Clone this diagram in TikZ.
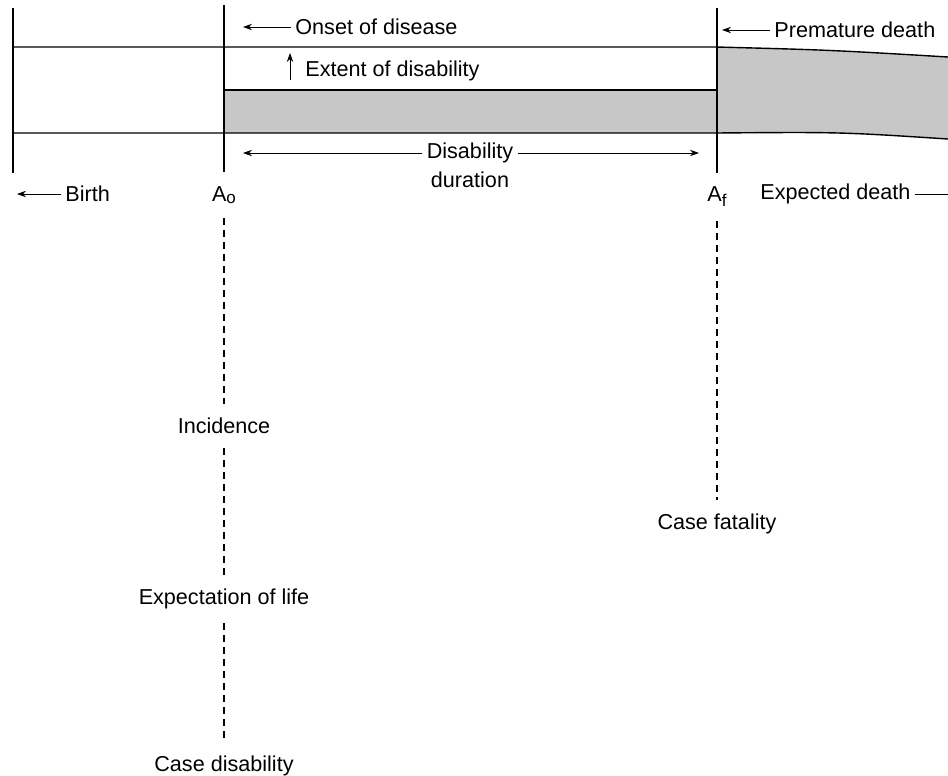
\documentclass[tikz,border=0pt]{standalone}
\usepackage{fontspec}
\setmainfont{Liberation Sans}
\usetikzlibrary{arrows.meta}
\begin{document}
\begin{tikzpicture}[>={Stealth[length=4.5pt,width=3.2pt]},x=0.5pt,y=-0.5pt,
    txt/.style={font=\fontsize{10.8}{12}\selectfont,inner sep=2pt},
    cut/.style={txt,inner ysep=7pt},
    arr/.style={->,line width=0.45pt},
    life/.style={line width=0.7pt},
    dashline/.style={line width=0.6pt,dash pattern=on 3.5pt off 2.5pt}]
  \useasboundingbox (0,0) rectangle (948,776);
  % bands
  \fill[black!22] (224,90) rectangle (716,133);
  \fill[black!22] (716,47) .. controls (830,50) .. (948,57) -- (948,139) .. controls (840,132) .. (716,133) -- cycle;
  \draw[life] (13,47) -- (716,47) .. controls (830,50) .. (948,57);
  \draw[life] (13,133) -- (716,133) .. controls (840,132) .. (948,139);
  \draw[life] (224,90) -- (716,90);
  \draw[life] (13,8) -- (13,173);
  % ages
  \node[cut] (Ao) at (224,195) {A\raisebox{-1pt}{\fontsize{8.5}{9}\selectfont o}};
  \node[cut] (Af) at (717,197) {A\raisebox{-2.5pt}{\fontsize{8.5}{9}\selectfont f}};
  \coordinate (AoTop) at (224,5);
  \coordinate (AfTop) at (717,8);
  \draw[life] (AoTop) -- (Ao);
  \draw[life] (AfTop) -- (Af);
  % measures along the dashed lines
  \node[cut] (incid) at (224,426) {Incidence};
  \node[cut] (expect) at (224,599) {Expectation of life};
  \node[cut] (casedis) at (224,766) {Case disability};
  \node[cut] (fatal) at (717,524) {Case fatality};
  \draw[dashline] (Ao) -- (incid) (incid) -- (expect) (expect) -- (casedis);
  \draw[dashline] (Af) -- (fatal);
  % labels with arrows
  \node[txt,anchor=west] (onset) at (291,27) {Onset of disease};
  \coordinate (onsetTip) at (243,27);
  \draw[arr] (onset) -- (onsetTip);
  \node[txt,anchor=west] (extent) at (301,71) {Extent of disability};
  \coordinate (extTail) at (290,80);
  \coordinate (extTip) at (290,53);
  \draw[arr] (extTail) -- (extTip);
  \node[txt] (dis) at (470,153) {Disability};
  \node[txt] (dur) at (470,180) {duration};
  \coordinate (durL) at (243,153);
  \coordinate (durR) at (699,153);
  \draw[arr] (dis) -- (durL);
  \draw[arr] (dis) -- (durR);
  \node[txt,anchor=west] (prem) at (770,30) {Premature death};
  \coordinate (premTip) at (722,30);
  \draw[arr] (prem) -- (premTip);
  \node[txt,anchor=west] (birth) at (61,194) {Birth};
  \coordinate (birthTip) at (17,194);
  \draw[arr] (birth) -- (birthTip);
  \node[txt,anchor=west] (expd) at (756,194) {Expected death};
  \coordinate (edgeR) at (948,194);
  \draw[line width=0.45pt] (expd) -- (edgeR);
\end{tikzpicture}
\end{document}
